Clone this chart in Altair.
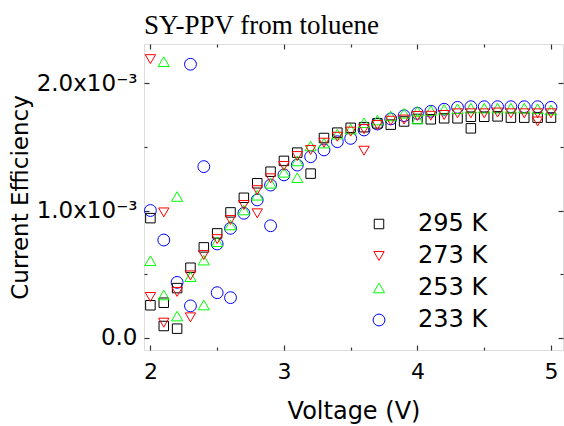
import altair as alt
import pandas as pd

# ---- data (current efficiency in units of 1e-3) ----
series = ["295 K", "273 K", "253 K", "233 K"]
colors = ["#000000", "#ff0000", "#00ff00", "#0000ff"]
shapes = ["square", "triangle-down", "triangle-up", "circle"]
sizes = [90, 140, 140, 110]

v295 = [2.0, 2.0, 2.1, 2.1, 2.2, 2.2, 2.3, 2.4, 2.5, 2.6, 2.7, 2.8, 2.9, 3.0, 3.1, 3.2,
        3.3, 3.4, 3.5, 3.6, 3.7, 3.8, 3.9, 4.0, 4.1, 4.2, 4.3, 4.4, 4.4, 4.5, 4.6, 4.7,
        4.8, 4.9, 5.0]
e295 = [0.94, 0.255, 0.275, 0.092, 0.39, 0.071, 0.55, 0.71, 0.82, 0.985, 1.10, 1.214,
        1.305, 1.39, 1.455, 1.29, 1.57, 1.612, 1.65, 1.655, 1.685, 1.675, 1.70, 1.72,
        1.717, 1.725, 1.725, 1.737, 1.646, 1.737, 1.74, 1.73, 1.73, 1.73, 1.73]

v273 = [2.0, 2.0, 2.1, 2.1, 2.2, 2.3, 2.3, 2.4, 2.5, 2.6, 2.7, 2.8, 2.8, 2.9, 3.0, 3.1,
        3.2, 3.3, 3.4, 3.5, 3.6, 3.6, 3.7, 3.8, 3.9, 4.0, 4.1, 4.2, 4.3, 4.4, 4.5, 4.6,
        4.7, 4.8, 4.9, 4.9, 5.0]
e273 = [2.19, 0.32, 0.985, 0.118, 0.36, 0.49, 0.16, 0.65, 0.775, 0.925, 1.043, 1.16,
        0.978, 1.253, 1.35, 1.428, 1.476, 1.533, 1.58, 1.62, 1.64, 1.47, 1.672, 1.706,
        1.715, 1.743, 1.745, 1.751, 1.764, 1.764, 1.764, 1.77, 1.764, 1.764, 1.764,
        1.70, 1.764]

v253 = [2.0, 2.1, 2.1, 2.2, 2.2, 2.3, 2.4, 2.4, 2.5, 2.6, 2.7, 2.8, 2.9, 3.0, 3.1, 3.1,
        3.2, 3.3, 3.4, 3.5, 3.6, 3.7, 3.8, 3.9, 4.0, 4.0, 4.1, 4.2, 4.3, 4.4, 4.5, 4.6,
        4.7, 4.8, 4.9, 5.0]
e253 = [0.605, 2.17, 0.336, 1.11, 0.17, 0.48, 0.61, 0.257, 0.755, 0.886, 1.004, 1.12,
        1.214, 1.30, 1.39, 1.258, 1.507, 1.53, 1.60, 1.64, 1.69, 1.711, 1.743, 1.764,
        1.72, 1.78, 1.785, 1.795, 1.80, 1.805, 1.805, 1.805, 1.805, 1.805, 1.80, 1.79]

v233 = [2.0, 2.1, 2.2, 2.3, 2.3, 2.4, 2.5, 2.5, 2.6, 2.6, 2.7, 2.8, 2.9, 2.9, 3.0, 3.1,
        3.2, 3.3, 3.4, 3.5, 3.6, 3.7, 3.8, 3.9, 4.0, 4.1, 4.2, 4.3, 4.4, 4.5, 4.6, 4.7,
        4.8, 4.9, 5.0]
e233 = [1.00, 0.768, 0.435, 2.15, 0.25, 1.345, 0.737, 0.354, 0.86, 0.315, 0.978, 1.083,
        1.20, 0.88, 1.28, 1.357, 1.423, 1.476, 1.541, 1.567, 1.633, 1.68, 1.72, 1.745,
        1.764, 1.78, 1.796, 1.811, 1.816, 1.816, 1.816, 1.816, 1.816, 1.816, 1.811]

x_ticks = [2, 3, 4, 5]
x_minor = [2.5, 3.5, 4.5]
y_ticks = [0, 1, 2]
y_minor = [0.5, 1.5]

# ---- table (draw order: blue, black, green, red) ----
rows = []
for name, vs, es in [("233 K", v233, e233), ("295 K", v295, e295),
                     ("253 K", v253, e253), ("273 K", v273, e273)]:
    for v, e in zip(vs, es):
        rows.append({"V": v, "E": e, "T": name})
df = pd.DataFrame(rows)

W, H = 419, 306
FRAME = "#333333"
SANS = "DejaVu Sans"

xscale = alt.Scale(domain=[1.952, 5.090], nice=False, zero=False)
yscale = alt.Scale(domain=[-0.0967, 2.309], nice=False, zero=False)

leg = alt.Legend(orient="none", legendX=223, legendY=168, title=None,
                 labelFontSize=24, labelFont=SANS, labelColor="black",
                 labelOffset=27, rowPadding=8, padding=0, symbolStrokeWidth=1)

points = alt.Chart(df).mark_point(filled=False, strokeWidth=1, opacity=1).encode(
    x=alt.X("V:Q", scale=xscale,
            axis=alt.Axis(values=x_ticks, format="d", title="Voltage (V)",
                          ticks=False, tickSize=0, domain=False, grid=False,
                          labelFont=SANS, titleFont=SANS,
                          labelFontSize=22, labelPadding=11, labelColor="black",
                          titleFontSize=24, titlePadding=17, titleColor="black",
                          titleFontWeight="normal")),
    y=alt.Y("E:Q", scale=yscale,
            axis=alt.Axis(values=y_ticks,
                          labelExpr="datum.value == 0 ? '0.0' : format(datum.value, '.1f') + 'x10⁻³'",
                          title="Current Efficiency",
                          ticks=False, tickSize=0, domain=False, grid=False,
                          labelFont=SANS, titleFont=SANS,
                          labelFontSize=23, labelPadding=7, labelColor="black",
                          titleFontSize=23, titlePadding=4, titleColor="black",
                          titleFontWeight="normal")),
    color=alt.Color("T:N", scale=alt.Scale(domain=series, range=colors), legend=leg),
    shape=alt.Shape("T:N", scale=alt.Scale(domain=series, range=shapes), legend=leg),
    size=alt.Size("T:N", scale=alt.Scale(domain=series, range=sizes), legend=leg),
)


def tick_layer(x_orient, y_orient, xvals, yvals, tsize):
    return alt.Chart(df).mark_point(opacity=0).encode(
        x=alt.X("V:Q", scale=xscale,
                axis=alt.Axis(orient=x_orient, offset=-H, values=xvals, labels=False,
                              domain=False, grid=False, ticks=True, tickSize=tsize,
                              tickColor=FRAME, tickWidth=1.2, title=None)),
        y=alt.Y("E:Q", scale=yscale,
                axis=alt.Axis(orient=y_orient, offset=-W, values=yvals, labels=False,
                              domain=False, grid=False, ticks=True, tickSize=tsize,
                              tickColor=FRAME, tickWidth=1.2, title=None)),
    )


chart = alt.layer(
    points,
    tick_layer("top", "right", x_ticks, y_ticks, 5),
    tick_layer("bottom", "left", x_ticks, y_ticks, 5),
    tick_layer("top", "right", x_minor, y_minor, 3),
    tick_layer("bottom", "left", x_minor, y_minor, 3),
).resolve_axis(x="independent", y="independent").properties(
    width=W, height=H,
    autosize=alt.AutoSizeParams(type="none"),
    padding={"left": 144, "top": 44, "right": 1, "bottom": 76},
    title=alt.TitleParams(text="SY-PPV from toluene", anchor="start", frame="group",
                          font="Liberation Serif", fontSize=27, fontWeight="normal",
                          color="black", baseline="alphabetic", offset=-18),
).configure_view(stroke=FRAME, strokeWidth=1.3).configure_axis(
    labelFont=SANS, titleFont=SANS, labelColor="black", titleColor="black",
    titleFontWeight="normal"
).configure(background="white")

chart.save("out.html", embed_options={"renderer": "svg", "actions": False})
